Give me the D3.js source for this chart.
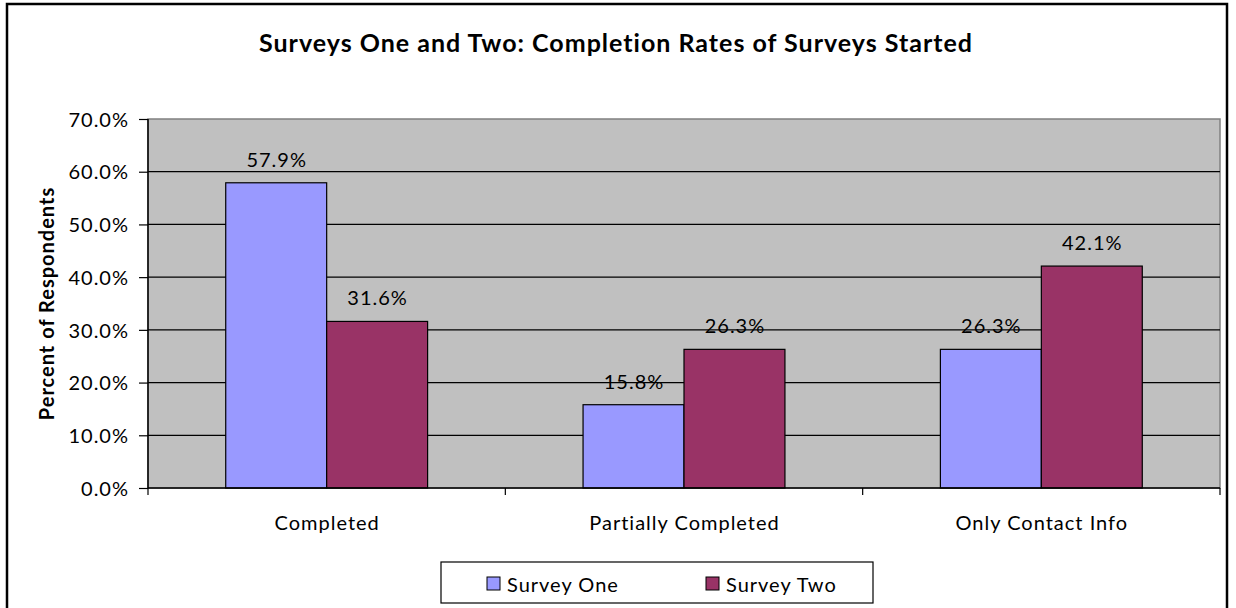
<!DOCTYPE html>
<html>
<head>
<meta charset="utf-8">
<script src="https://cdn.jsdelivr.net/npm/d3@7"></script>
<style>
  html, body { margin: 0; padding: 0; background: #fff; }
  svg { display: block; font-family: Lato, "Open Sans", sans-serif; }
</style>
</head>
<body>
<svg id="chart" width="1236" height="608"></svg>
<script>
// Completion rates per survey, in percent
const categories = ["Completed", "Partially Completed", "Only Contact Info"];
const seriesNames = ["Survey One", "Survey Two"];
const surveyOne = [57.9, 15.8, 26.3];
const surveyTwo = [31.6, 26.3, 42.1];
const yTicks = [0, 10, 20, 30, 40, 50, 60, 70];
const seriesColors = ["#9999FF", "#993366"];

const svg = d3.select("#chart");
const FS = 20, LS = 1;

// outer chart frame
svg.append("rect")
  .attr("x", 7).attr("y", 4).attr("width", 1220).attr("height", 620)
  .attr("fill", "#fff").attr("stroke", "#000").attr("stroke-width", 2.5);

const plot = { left: 148, top: 119, right: 1220, bottom: 488 };

const x0 = d3.scaleBand().domain(categories).range([plot.left, plot.right]).paddingInner(0).paddingOuter(0);
const x1 = d3.scaleBand().domain(seriesNames).range([0, x0.bandwidth()]).paddingInner(0).paddingOuter(0.77);
const y = d3.scaleLinear().domain([0, 70]).range([plot.bottom, plot.top]);

// plot background
svg.append("rect")
  .attr("x", plot.left).attr("y", plot.top)
  .attr("width", plot.right - plot.left).attr("height", plot.bottom - plot.top)
  .attr("fill", "#C0C0C0").attr("stroke", "#808080").attr("stroke-width", 1.5);

// gridlines
svg.append("g").selectAll("line").data(yTicks.filter(t => t > 0 && t < 70)).join("line")
  .attr("x1", plot.left).attr("x2", plot.right)
  .attr("y1", d => y(d)).attr("y2", d => y(d))
  .attr("stroke", "#000").attr("stroke-width", 1.2);

// bars
const rows = categories.map((c, i) => ({ cat: c, vals: [surveyOne[i], surveyTwo[i]] }));
const groups = svg.append("g").selectAll("g").data(rows).join("g")
  .attr("transform", d => `translate(${x0(d.cat)},0)`);

groups.selectAll("rect").data(d => d.vals.map((v, j) => ({ s: seriesNames[j], v, j }))).join("rect")
  .attr("x", d => x1(d.s)).attr("width", x1.bandwidth())
  .attr("y", d => y(d.v)).attr("height", d => y(0) - y(d.v))
  .attr("fill", d => seriesColors[d.j]).attr("stroke", "#000").attr("stroke-width", 1.2);

groups.selectAll("text").data(d => d.vals.map((v, j) => ({ s: seriesNames[j], v, j }))).join("text")
  .attr("x", d => x1(d.s) + x1.bandwidth() / 2 + LS / 2)
  .attr("y", d => y(d.v) - 16)
  .attr("text-anchor", "middle").attr("font-size", FS).attr("letter-spacing", LS).attr("fill", "#000")
  .text(d => d.v.toFixed(1) + "%");

// y axis
const yAxis = d3.axisLeft(y).tickValues(yTicks).tickFormat(d => d.toFixed(1) + "%").tickSize(9).tickPadding(10);
const gy = svg.append("g").attr("transform", `translate(${plot.left},0)`).call(yAxis);
gy.select(".domain").attr("stroke", "#000").attr("stroke-width", 1.5).attr("d", `M0,${plot.top}V${plot.bottom}`);
gy.selectAll(".tick line").attr("stroke", "#000").attr("stroke-width", 1.2);
gy.selectAll(".tick text").attr("font-size", FS).attr("letter-spacing", LS).attr("fill", "#000")
  .attr("font-family", "Lato, sans-serif").attr("dy", "0.36em");

// x axis: ticks at category boundaries
const gx = svg.append("g").attr("transform", `translate(0,${plot.bottom})`);
gx.append("line").attr("x1", plot.left).attr("x2", plot.right).attr("stroke", "#000").attr("stroke-width", 1.5);
const bounds = categories.map(c => x0(c)).concat([plot.right]);
gx.selectAll("line.tk").data(bounds).join("line").attr("class", "tk")
  .attr("x1", d => d).attr("x2", d => d).attr("y1", 0).attr("y2", 7)
  .attr("stroke", "#000").attr("stroke-width", 1.2);
gx.selectAll("text").data(categories).join("text")
  .attr("x", d => x0(d) + x0.bandwidth() / 2 + LS / 2).attr("y", 42)
  .attr("text-anchor", "middle").attr("font-size", FS).attr("letter-spacing", LS).attr("fill", "#000")
  .text(d => d);

// title
svg.append("text").attr("x", 616).attr("y", 52).attr("text-anchor", "middle")
  .attr("font-size", 25).attr("letter-spacing", 1).attr("font-weight", "bold").attr("fill", "#000")
  .text("Surveys One and Two: Completion Rates of Surveys Started");

// y axis title
svg.append("text").attr("transform", `translate(54,${(plot.top + plot.bottom) / 2}) rotate(-90)`)
  .attr("text-anchor", "middle").attr("font-size", FS).attr("letter-spacing", LS)
  .attr("font-weight", "bold").attr("fill", "#000")
  .text("Percent of Respondents");

// legend
const lg = svg.append("g").attr("transform", "translate(441,562)");
lg.append("rect").attr("width", 432).attr("height", 41).attr("fill", "#fff").attr("stroke", "#000").attr("stroke-width", 1.2);
const legendX = [46, 265];
seriesNames.forEach((s, i) => {
  lg.append("rect").attr("x", legendX[i]).attr("y", 15).attr("width", 13).attr("height", 13)
    .attr("fill", seriesColors[i]).attr("stroke", "#000").attr("stroke-width", 1);
  lg.append("text").attr("x", legendX[i] + 20).attr("y", 30).attr("font-size", FS).attr("letter-spacing", LS)
    .attr("fill", "#000").text(s);
});
</script>
</body>
</html>
